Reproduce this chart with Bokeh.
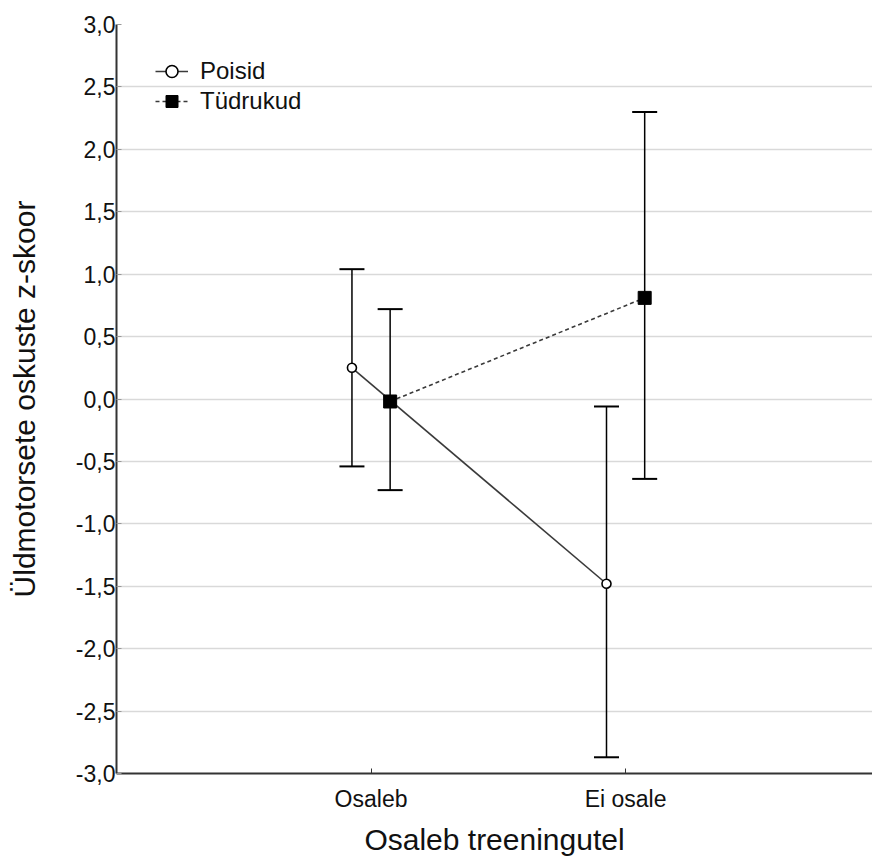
from bokeh.plotting import figure
from bokeh.models import (Range1d, FixedTicker, Whisker, TeeHead, ColumnDataSource,
                          Legend, LegendItem)
from bokeh.embed import file_html
from bokeh.resources import INLINE

categories = ["Osaleb", "Ei osale"]
groups = ["Poisid", "Tüdrukud"]
poisid_mean = [0.25, -1.48]
poisid_lower = [-0.54, -2.87]
poisid_upper = [1.04, -0.06]
tudrukud_mean = [-0.02, 0.81]
tudrukud_lower = [-0.73, -0.64]
tudrukud_upper = [0.72, 2.30]
y_tick_values = [-3.0, -2.5, -2.0, -1.5, -1.0, -0.5, 0.0, 0.5, 1.0, 1.5, 2.0, 2.5, 3.0]
y_tick_labels = ["-3,0", "-2,5", "-2,0", "-1,5", "-1,0", "-0,5", "0,0",
                 "0,5", "1,0", "1,5", "2,0", "2,5", "3,0"]
x_label = "Osaleb treeningutel"
y_label = "Üldmotorsete oskuste z-skoor"

FONT = "Liberation Sans"
dodge = 0.075
cat_pos = [i + 1 for i in range(len(categories))]

p = figure(width=872, height=859, output_backend="svg", toolbar_location=None,
           x_range=Range1d(0, 2.97), y_range=Range1d(-3, 3),
           min_border_left=116, min_border_right=0, min_border_top=24,
           min_border_bottom=86)
p.outline_line_color = None
p.background_fill_color = "white"

src_p = ColumnDataSource(dict(x=[c - dodge for c in cat_pos], y=poisid_mean,
                              lo=poisid_lower, hi=poisid_upper))
src_t = ColumnDataSource(dict(x=[c + dodge for c in cat_pos], y=tudrukud_mean,
                              lo=tudrukud_lower, hi=tudrukud_upper))

for src in (src_p, src_t):
    w = Whisker(source=src, base="x", lower="lo", upper="hi", dimension="height",
                line_color="black", line_width=1.5,
                upper_head=TeeHead(size=25, line_color="black", line_width=2),
                lower_head=TeeHead(size=25, line_color="black", line_width=2))
    p.add_layout(w)

lp = p.line("x", "y", source=src_p, line_color="#3a3a3a", line_width=1.6)
lt = p.line("x", "y", source=src_t, line_color="#3a3a3a", line_width=1.6,
            line_dash="4 3")
sp = p.scatter("x", "y", source=src_p, marker="circle", size=9,
               fill_color="white", line_color="black", line_width=1.6)
st = p.scatter("x", "y", source=src_t, marker="square", size=13,
               fill_color="black", line_color="black")

legend = Legend(items=[LegendItem(label=groups[0], renderers=[lp, sp]),
                       LegendItem(label=groups[1], renderers=[lt, st])],
                location=(39, 657), padding=0, margin=0, spacing=0,
                glyph_width=33, glyph_height=30, label_height=30,
                label_standoff=12, label_text_font=FONT, label_text_font_size="24px",
                label_text_color="#111111", border_line_color=None,
                background_fill_alpha=0)
p.add_layout(legend)

p.xaxis.ticker = FixedTicker(ticks=cat_pos)
p.xaxis.major_label_overrides = {c: n for c, n in zip(cat_pos, categories)}
p.yaxis.ticker = FixedTicker(ticks=y_tick_values)
p.yaxis.major_label_overrides = {v: l for v, l in zip(y_tick_values, y_tick_labels)}

p.xgrid.grid_line_color = None
p.ygrid.grid_line_color = "#d9d9d9"
p.ygrid.grid_line_width = 1.5

for ax in (p.xaxis, p.yaxis):
    ax.axis_line_color = "#333333"
    ax.axis_line_width = 2
    ax.major_tick_line_color = "#333333"
    ax.major_tick_in = 5
    ax.major_tick_out = 0
    ax.minor_tick_line_color = None
    ax.major_label_text_font = FONT
    ax.major_label_text_font_size = "23px"
    ax.major_label_text_color = "#111111"
    ax.axis_label_text_font = FONT
    ax.axis_label_text_font_size = "30px"
    ax.axis_label_text_font_style = "normal"
    ax.axis_label_text_color = "#111111"

p.yaxis.major_tick_line_color = "#999999"
p.xaxis.axis_label = x_label
p.yaxis.axis_label = y_label
p.xaxis.major_label_standoff = 12
p.xaxis.axis_label_standoff = 8
p.yaxis.major_label_standoff = 1
p.yaxis.axis_label_standoff = 32

open("out.html", "w").write(file_html(p, INLINE))
